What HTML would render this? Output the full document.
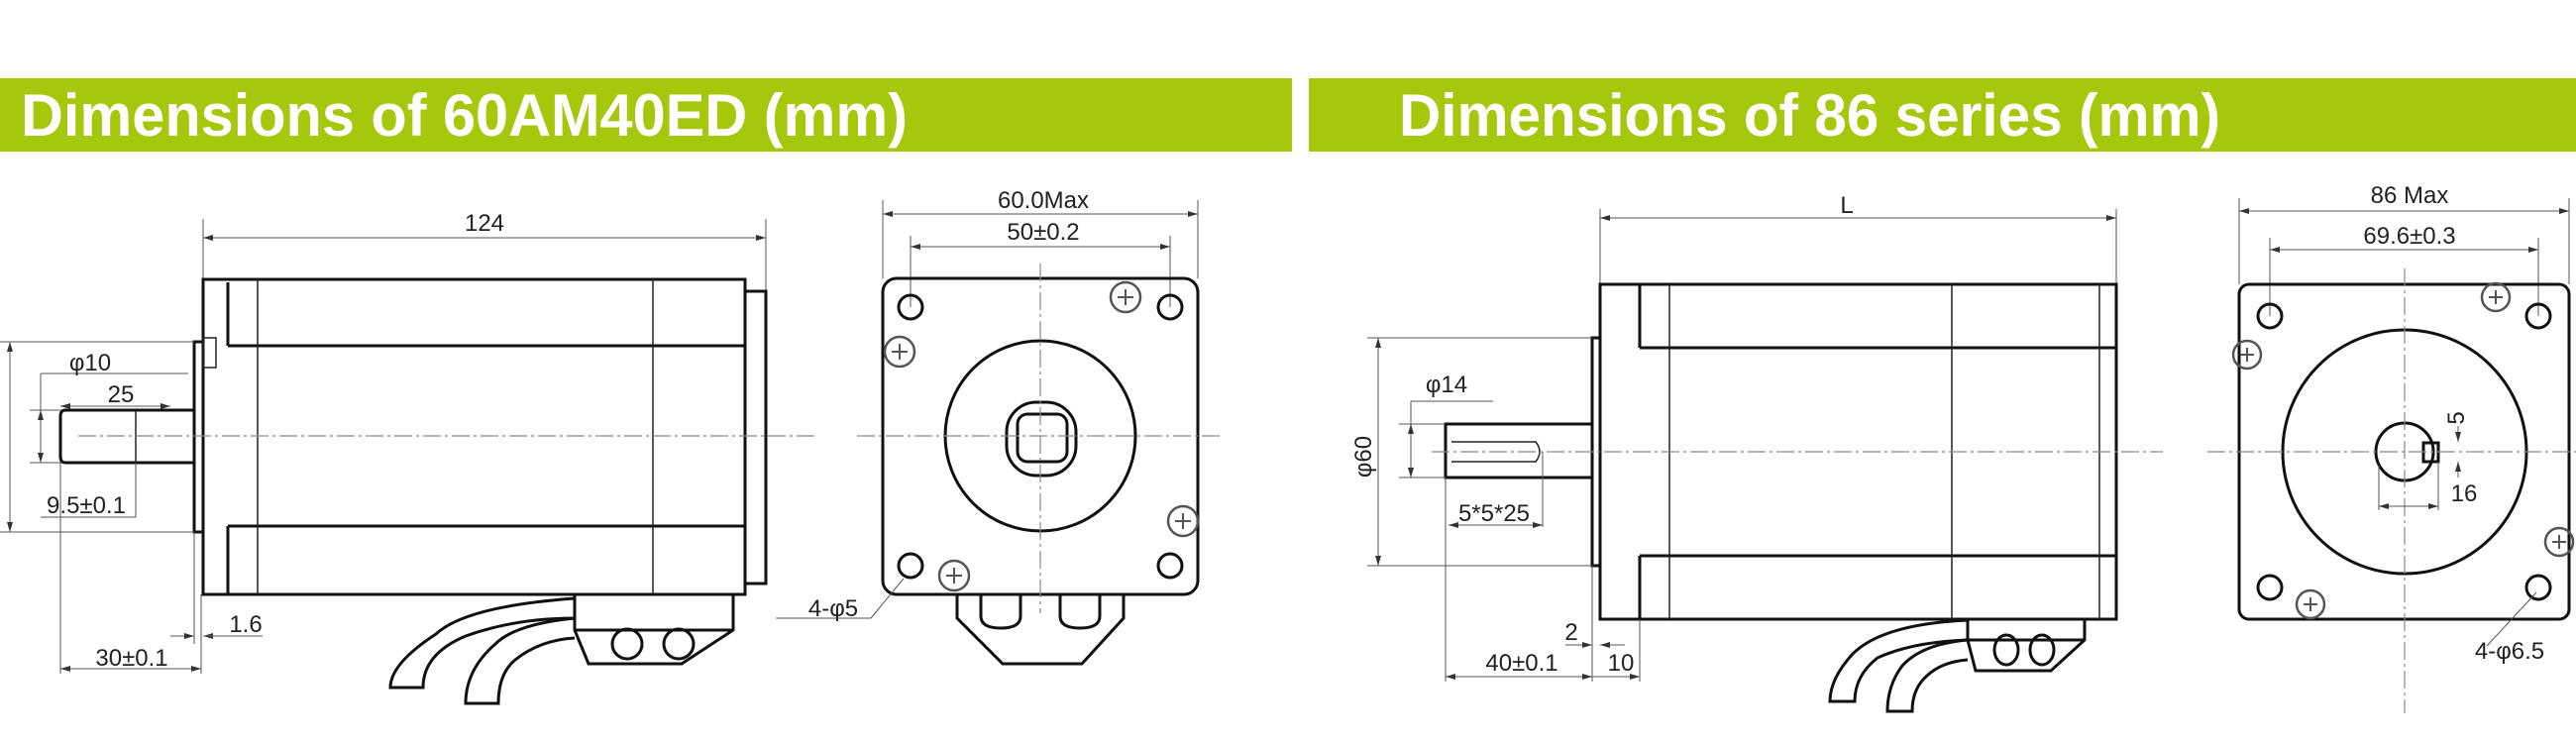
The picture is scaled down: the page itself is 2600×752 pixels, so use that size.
<!DOCTYPE html>
<html><head><meta charset="utf-8"><style>
html,body{margin:0;padding:0;background:#fff;}
svg{display:block;}
.o{fill:none;stroke:#111;stroke-width:3;}
.t{fill:none;stroke:#222;stroke-width:1.5;}
.d{fill:none;stroke:#555;stroke-width:1;}
.c{fill:none;stroke:#888;stroke-width:1.2;stroke-dasharray:18 4 3 4;}
.tx{font-family:"Liberation Sans",sans-serif;font-size:24px;fill:#222;text-anchor:middle;}
</style></head><body>
<svg width="2600" height="752" viewBox="0 0 2600 752" xmlns="http://www.w3.org/2000/svg">
<defs>
<marker id="a" viewBox="0 0 10 6" refX="10" refY="3" markerWidth="10" markerHeight="6" orient="auto-start-reverse" markerUnits="userSpaceOnUse"><path d="M0,0 L10,3 L0,6z" fill="#333"/></marker>
</defs>
<!-- green bars -->
<rect x="0" y="79" width="1304" height="74" fill="#a6c80c"/>
<rect x="1321" y="79" width="1279" height="74" fill="#a6c80c"/>
<text x="21" y="137" font-family="Liberation Sans,sans-serif" font-weight="bold" font-size="60" fill="#fff" textLength="895" lengthAdjust="spacingAndGlyphs">Dimensions of 60AM40ED (mm)</text>
<text x="1412" y="137" font-family="Liberation Sans,sans-serif" font-weight="bold" font-size="60" fill="#fff" textLength="829" lengthAdjust="spacingAndGlyphs">Dimensions of 86 series (mm)</text>

<!-- ===== LEFT SIDE VIEW ===== -->
<line class="d" x1="205" y1="221" x2="205" y2="282"/>
<line class="d" x1="773" y1="221" x2="773" y2="294"/>
<line class="d" x1="205" y1="240" x2="773" y2="240" marker-start="url(#a)" marker-end="url(#a)"/>
<text class="tx" x="489" y="233">124</text>
<rect class="o" x="205" y="282" width="547" height="318"/>
<line class="o" x1="230" y1="285" x2="230" y2="349"/>
<line class="o" x1="230" y1="349" x2="752" y2="349"/>
<line class="o" x1="230" y1="531" x2="752" y2="531"/>
<line class="o" x1="230" y1="531" x2="230" y2="600"/>
<line class="t" x1="260" y1="282" x2="260" y2="600"/>
<line class="t" x1="659" y1="282" x2="659" y2="600"/>
<rect class="o" x="752" y="294" width="21" height="295"/>
<rect class="o" x="196" y="345" width="9" height="192"/>
<rect class="t" x="205" y="341" width="13" height="30"/>
<path class="o" d="M196,414 L66,414 Q61,414 61,420 L61,461 Q61,467 66,467 L196,467"/>
<line class="t" x1="137" y1="414" x2="137" y2="467"/>
<line class="c" x1="79" y1="440" x2="825" y2="440"/>
<!-- dims left -->
<line class="d" x1="41" y1="377" x2="190" y2="377"/>
<text class="tx" x="91" y="374">φ10</text>
<line class="d" x1="41" y1="377" x2="41" y2="467"/>
<line class="d" x1="41" y1="414" x2="41" y2="467" marker-start="url(#a)" marker-end="url(#a)"/>
<line class="d" x1="30" y1="414" x2="61" y2="414"/>
<line class="d" x1="30" y1="467" x2="61" y2="467"/>
<line class="d" x1="61" y1="410" x2="172" y2="410" marker-start="url(#a)" marker-end="url(#a)"/>
<text class="tx" x="122" y="406">25</text>
<line class="d" x1="137" y1="467" x2="137" y2="522"/>
<line class="d" x1="41" y1="522" x2="137" y2="522"/>
<text class="tx" x="87" y="518">9.5±0.1</text>
<line class="d" x1="61" y1="467" x2="61" y2="680"/>
<line class="d" x1="203" y1="600" x2="203" y2="680"/>
<line class="d" x1="196" y1="537" x2="196" y2="650"/>
<line class="d" x1="61" y1="675" x2="203" y2="675" marker-start="url(#a)" marker-end="url(#a)"/>
<text class="tx" x="133" y="672">30±0.1</text>
<line class="d" x1="172" y1="642" x2="196" y2="642" marker-end="url(#a)"/>
<line class="d" x1="230" y1="642" x2="205" y2="642" marker-end="url(#a)"/>
<line class="d" x1="205" y1="642" x2="265" y2="642"/>
<text class="tx" x="248" y="638">1.6</text>
<line class="d" x1="0" y1="345" x2="196" y2="345"/>
<line class="d" x1="0" y1="537" x2="196" y2="537"/>
<line class="d" x1="10" y1="345" x2="10" y2="537" marker-start="url(#a)" marker-end="url(#a)"/>
<!-- connector & cable left -->
<path class="o" d="M580,600 L580,636 L594,670 L688,670 L740,636 L740,600"/>
<line class="o" x1="580" y1="636" x2="740" y2="636"/>
<ellipse class="o" cx="633" cy="650" rx="15" ry="15"/>
<ellipse class="o" cx="685" cy="650" rx="15" ry="15"/>
<path class="o" d="M580,604 Q470,612 440,640 Q394,670 394,694 L427,694 Q427,660 470,642 Q520,624 580,624"/>
<path class="o" d="M580,624 Q520,630 500,650 Q470,676 470,710 L503,710 Q503,680 520,666 Q545,646 580,644"/>

<!-- ===== LEFT FRONT VIEW ===== -->
<line class="d" x1="891" y1="202" x2="891" y2="281"/>
<line class="d" x1="1209" y1="202" x2="1209" y2="281"/>
<line class="d" x1="891" y1="216" x2="1209" y2="216" marker-start="url(#a)" marker-end="url(#a)"/>
<text class="tx" x="1053" y="210">60.0Max</text>
<line class="d" x1="919" y1="238" x2="919" y2="310"/>
<line class="d" x1="1181" y1="238" x2="1181" y2="310"/>
<line class="d" x1="919" y1="249" x2="1181" y2="249" marker-start="url(#a)" marker-end="url(#a)"/>
<text class="tx" x="1053" y="242">50±0.2</text>
<rect class="o" x="891" y="281" width="318" height="319" rx="14"/>
<circle class="o" cx="919" cy="310" r="12"/>
<circle class="o" cx="1181" cy="310" r="12"/>
<circle class="o" cx="919" cy="571" r="12"/>
<circle class="o" cx="1181" cy="571" r="12"/>
<circle class="o" cx="1050" cy="440" r="96"/>
<rect class="o" x="1016" y="406" width="70" height="74" rx="30"/>
<rect class="o" x="1027" y="418" width="50" height="48" rx="10"/>
<g fill="none" stroke="#555" stroke-width="2.5">
<circle cx="1136" cy="300" r="15"/><circle cx="908" cy="355" r="15"/><circle cx="1194" cy="526" r="15"/><circle cx="963" cy="581" r="15"/>
</g>
<g stroke="#555" stroke-width="2">
<path d="M1128,300h16M1136,292v16M900,355h16M908,347v16M1186,526h16M1194,518v16M955,581h16M963,573v16"/>
</g>
<line class="c" x1="865" y1="440" x2="1233" y2="440"/>
<line class="c" x1="1050" y1="266" x2="1050" y2="619"/>
<path class="o" d="M966,600 L966,624 L1012,670 L1092,670 L1134,624 L1134,600"/>
<path class="o" d="M990,600 L990,622 Q990,634 1010,634 Q1030,634 1030,622 L1030,600"/>
<path class="o" d="M1070,600 L1070,622 Q1070,634 1090,634 Q1110,634 1110,622 L1110,600"/>
<line class="d" x1="783" y1="624" x2="879" y2="624"/>
<line class="d" x1="879" y1="624" x2="912" y2="584"/>
<text class="tx" x="841" y="622">4-φ5</text>

<!-- ===== RIGHT SIDE VIEW ===== -->
<line class="d" x1="1615" y1="211" x2="1615" y2="287"/>
<line class="d" x1="2136" y1="211" x2="2136" y2="287"/>
<line class="d" x1="1615" y1="220" x2="2136" y2="220" marker-start="url(#a)" marker-end="url(#a)"/>
<text class="tx" x="1864" y="215">L</text>
<rect class="o" x="1615" y="287" width="521" height="338"/>
<line class="o" x1="1655" y1="287" x2="1655" y2="351"/>
<line class="o" x1="1655" y1="351" x2="2136" y2="351"/>
<line class="o" x1="1655" y1="561" x2="2136" y2="561"/>
<line class="o" x1="1655" y1="561" x2="1655" y2="625"/>
<line class="t" x1="1685" y1="287" x2="1685" y2="625"/>
<line class="t" x1="1970" y1="287" x2="1970" y2="625"/>
<line class="t" x1="2119" y1="287" x2="2119" y2="625"/>
<rect class="o" x="1607" y="341" width="8" height="230"/>
<path class="o" d="M1607,428 L1459,428 L1459,482 L1607,482"/>
<path class="t" d="M1465,446 L1550,446 Q1558,456 1550,466 L1465,466"/>
<line class="c" x1="1445" y1="456" x2="2183" y2="456"/>
<!-- dims -->
<line class="d" x1="1380" y1="341" x2="1607" y2="341"/>
<line class="d" x1="1380" y1="571" x2="1607" y2="571"/>
<line class="d" x1="1391" y1="341" x2="1391" y2="571" marker-start="url(#a)" marker-end="url(#a)"/>
<text class="tx" transform="translate(1384,461) rotate(-90)" x="0" y="0">φ60</text>
<line class="d" x1="1424" y1="405" x2="1507" y2="405"/>
<text class="tx" x="1460" y="396">φ14</text>
<line class="d" x1="1412" y1="428" x2="1459" y2="428"/>
<line class="d" x1="1412" y1="482" x2="1459" y2="482"/>
<line class="d" x1="1424" y1="405" x2="1424" y2="482"/>
<line class="d" x1="1424" y1="428" x2="1424" y2="482" marker-start="url(#a)" marker-end="url(#a)"/>
<line class="d" x1="1557" y1="456" x2="1557" y2="532"/>
<line class="d" x1="1462" y1="530" x2="1557" y2="530" marker-start="url(#a)" marker-end="url(#a)"/>
<text class="tx" x="1508" y="526">5*5*25</text>
<line class="d" x1="1459" y1="482" x2="1459" y2="688"/>
<line class="d" x1="1607" y1="571" x2="1607" y2="688"/>
<line class="d" x1="1655" y1="625" x2="1655" y2="688"/>
<line class="d" x1="1459" y1="683" x2="1607" y2="683" marker-start="url(#a)" marker-end="url(#a)"/>
<text class="tx" x="1536" y="677">40±0.1</text>
<line class="d" x1="1607" y1="683" x2="1655" y2="683" marker-end="url(#a)"/>
<text class="tx" x="1636" y="677">10</text>
<line class="d" x1="1580" y1="651" x2="1607" y2="651" marker-end="url(#a)"/>
<line class="d" x1="1640" y1="651" x2="1615" y2="651" marker-end="url(#a)"/>
<text class="tx" x="1586" y="646">2</text>
<!-- connector & cable right -->
<path class="o" d="M1986,625 L1986,646 L1994,677 L2070,677 L2104,646 L2104,625"/>
<line class="o" x1="1986" y1="646" x2="2104" y2="646"/>
<ellipse class="o" cx="2025" cy="656" rx="12" ry="15"/>
<ellipse class="o" cx="2061" cy="656" rx="12" ry="15"/>
<path class="o" d="M1986,626 Q1900,630 1870,660 Q1847,685 1847,708 L1872,708 Q1872,682 1895,664 Q1930,648 1986,646"/>
<path class="o" d="M1986,646 Q1940,650 1920,672 Q1905,692 1905,718 L1930,718 Q1930,695 1945,682 Q1960,668 1986,666"/>

<!-- ===== RIGHT FRONT VIEW ===== -->
<line class="d" x1="2260" y1="200" x2="2260" y2="287"/>
<line class="d" x1="2593" y1="200" x2="2593" y2="287"/>
<line class="d" x1="2260" y1="213" x2="2593" y2="213" marker-start="url(#a)" marker-end="url(#a)"/>
<text class="tx" x="2432" y="205">86 Max</text>
<line class="d" x1="2291" y1="240" x2="2291" y2="319"/>
<line class="d" x1="2562" y1="240" x2="2562" y2="319"/>
<line class="d" x1="2291" y1="252" x2="2562" y2="252" marker-start="url(#a)" marker-end="url(#a)"/>
<text class="tx" x="2432" y="246">69.6±0.3</text>
<rect class="o" x="2260" y="287" width="333" height="338" rx="10"/>
<circle class="o" cx="2291" cy="319" r="12"/>
<circle class="o" cx="2562" cy="319" r="12"/>
<circle class="o" cx="2291" cy="593" r="12"/>
<circle class="o" cx="2562" cy="593" r="12"/>
<circle class="o" cx="2427" cy="456" r="123"/>
<circle class="o" cx="2427" cy="456" r="29"/>
<rect class="o" x="2446" y="447" width="15" height="19" fill="#fff"/>
<g fill="none" stroke="#555" stroke-width="2.5">
<circle cx="2519" cy="300" r="14"/><circle cx="2268" cy="358" r="14"/><circle cx="2583" cy="547" r="14"/><circle cx="2332" cy="610" r="14"/>
</g>
<g stroke="#555" stroke-width="2">
<path d="M2512,300h14M2519,293v14M2261,358h14M2268,351v14M2576,547h14M2583,540v14M2325,610h14M2332,603v14"/>
</g>
<line class="c" x1="2228" y1="456" x2="2600" y2="456"/>
<line class="c" x1="2427" y1="271" x2="2427" y2="720"/>
<line class="d" x1="2481" y1="430" x2="2481" y2="446" marker-end="url(#a)"/>
<line class="d" x1="2481" y1="482" x2="2481" y2="466" marker-end="url(#a)"/>
<text class="tx" transform="translate(2487,422) rotate(-90)" x="0" y="0">5</text>
<line class="d" x1="2401" y1="470" x2="2401" y2="515"/>
<line class="d" x1="2461" y1="466" x2="2461" y2="515"/>
<line class="d" x1="2401" y1="511" x2="2461" y2="511" marker-start="url(#a)" marker-end="url(#a)"/>
<text class="tx" x="2487" y="506">16</text>
<line class="d" x1="2510" y1="652" x2="2560" y2="598"/>
<text class="tx" x="2533" y="665">4-φ6.5</text>
</svg>
</body></html>
